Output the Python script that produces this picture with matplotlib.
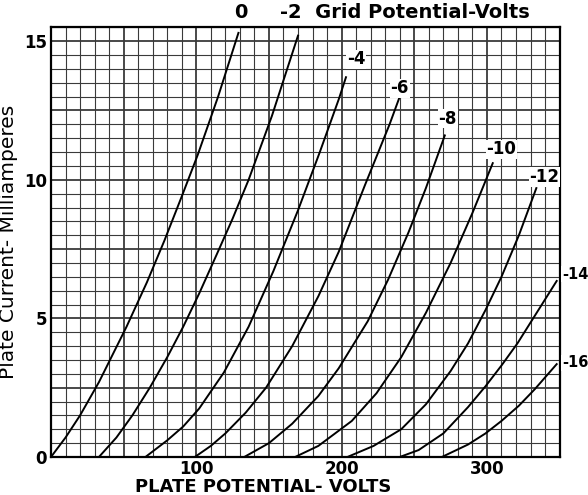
#!/usr/bin/env python

import numpy as np
from matplotlib import pyplot as plt

# plate characteristic readings, one pair of lists per grid bias
grid_labels = ['0', '-2', '-4', '-6', '-8', '-10', '-12', '-14', '-16']

volts_0 = [0, 10, 20, 33, 52, 66, 78, 90, 101, 115, 129]
ma_0 = [0, 0.7, 1.5, 2.7, 4.7, 6.3, 7.8, 9.4, 10.9, 13.0, 15.3]

volts_2 = [33, 45, 56, 68, 80, 91, 102, 114, 125, 136, 152, 170]
ma_2 = [0, 0.7, 1.5, 2.5, 3.6, 4.7, 5.9, 7.3, 8.6, 10.0, 12.3, 15.2]

volts_4 = [65, 80, 91, 102, 119, 136, 153, 170, 185, 198, 203]
ma_4 = [0, 0.6, 1.1, 1.75, 3.05, 4.7, 6.7, 8.9, 11.0, 12.9, 13.7]

volts_6 = [99, 110, 120, 134, 148, 166, 184, 198, 216, 233, 240]
ma_6 = [0, 0.4, 0.85, 1.6, 2.5, 4.0, 5.8, 7.4, 9.8, 12.0, 13.0]

volts_8 = [133, 150, 166, 184, 198, 218, 232, 246, 258, 271]
ma_8 = [0, 0.5, 1.2, 2.2, 3.2, 4.9, 6.4, 8.1, 9.7, 11.6]

volts_10 = [168, 184, 207, 224, 241, 258, 275, 290, 304]
ma_10 = [0, 0.4, 1.3, 2.3, 3.6, 5.2, 7.0, 8.8, 10.6]

volts_12 = [204, 222, 241, 258, 275, 287, 299, 310, 322, 334]
ma_12 = [0, 0.4, 1.0, 1.9, 3.1, 4.1, 5.3, 6.5, 8.0, 9.7]

volts_14 = [240, 253, 270, 287, 299, 310, 321, 333, 348]
ma_14 = [0, 0.25, 0.85, 1.8, 2.55, 3.3, 4.1, 5.1, 6.35]

volts_16 = [269, 287, 299, 310, 322, 333, 348]
ma_16 = [0, 0.45, 0.85, 1.3, 1.85, 2.45, 3.35]

# where each bias label sits (volts, mA)
label_x = [130.5, 157.5, 210, 240, 273, 310, 339.5, 351.5, 351.5]
label_y = [16.05, 16.05, 14.35, 13.3, 12.2, 11.1, 10.1, 6.6, 3.4]

curves = [(volts_0, ma_0), (volts_2, ma_2), (volts_4, ma_4), (volts_6, ma_6),
          (volts_8, ma_8), (volts_10, ma_10), (volts_12, ma_12),
          (volts_14, ma_14), (volts_16, ma_16)]

fig = plt.figure(figsize=(5.88, 4.95), dpi=100)
ax = fig.add_axes([0.0867, 0.0768, 0.865, 0.868])

ax.set_xlim(0, 350)
ax.set_ylim(0, 15.5)

# graph paper: 10 V by 0.5 mA, heavier every 50 V / 2.5 mA
for v in np.arange(0, 351, 10):
    lw = 1.3 if v % 50 == 0 else 0.8
    ax.axvline(v, color='#3a3a3a', lw=lw, zorder=1)
for i in np.arange(0, 15.51, 0.5):
    lw = 1.3 if i % 2.5 == 0 else 0.8
    ax.axhline(i, color='#3a3a3a', lw=lw, zorder=1)

for v, i in curves:
    ax.plot(v, i, color='black', lw=1.4, zorder=3, solid_joinstyle='round')

white = dict(facecolor='white', edgecolor='none', pad=0.5)
for k, lab in enumerate(grid_labels):
    if k == 1:
        continue
    if k == 0:
        ax.text(label_x[k], label_y[k], lab, ha='center', va='center',
                fontsize=14, fontweight='bold', clip_on=False, zorder=4)
    elif k >= 7:
        ax.text(label_x[k], label_y[k], lab, ha='left', va='center', fontsize=10.5,
                fontweight='bold', clip_on=False, zorder=4, bbox=white)
    else:
        ax.text(label_x[k], label_y[k], lab, ha='center', va='center', fontsize=12,
                fontweight='bold', clip_on=False, zorder=4, bbox=white)
ax.text(label_x[1], label_y[1], '-2  Grid Potential-Volts', ha='left', va='center',
        fontsize=14, fontweight='bold', clip_on=False, zorder=4)

for s in ax.spines.values():
    s.set_linewidth(1.6)
    s.set_color('black')

ax.set_xticks([100, 200, 300])
ax.set_yticks([0, 5, 10, 15])
ax.tick_params(length=0, labelsize=12)
for t in ax.get_xticklabels() + ax.get_yticklabels():
    t.set_fontweight('bold')
ax.tick_params(axis='x', pad=2)
ax.tick_params(axis='y', pad=3)

ax.set_xlabel('PLATE POTENTIAL- VOLTS', fontsize=13, fontweight='bold')
ax.xaxis.set_label_coords(0.417, -0.048)
ax.set_ylabel('Plate Current- Milliamperes', fontsize=14.5)
ax.yaxis.set_label_coords(-0.065, 0.5)

plt.savefig('out.png', dpi=100)
